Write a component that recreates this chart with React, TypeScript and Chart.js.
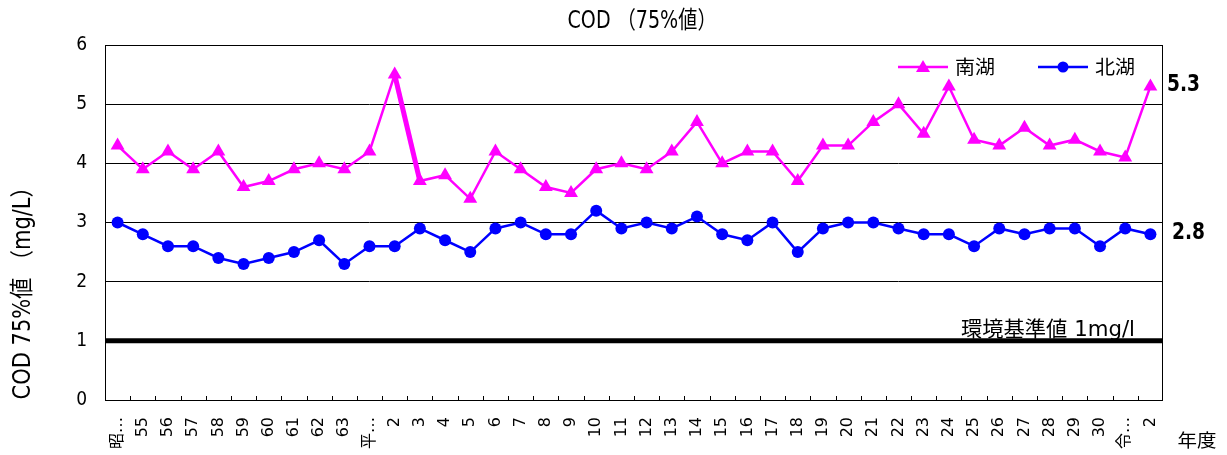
import { useEffect, useRef } from "react";
import { Chart, registerables } from "chart.js";

Chart.register(...registerables);

const categories = [
  "昭…", "55", "56", "57", "58", "59", "60", "61", "62", "63",
  "平…", "2", "3", "4", "5", "6", "7", "8", "9", "10",
  "11", "12", "13", "14", "15", "16", "17", "18", "19", "20",
  "21", "22", "23", "24", "25", "26", "27", "28", "29", "30",
  "令…", "2",
];

const southLake = [
  4.3, 3.9, 4.2, 3.9, 4.2, 3.6, 3.7, 3.9, 4.0, 3.9,
  4.2, 5.5, 3.7, 3.8, 3.4, 4.2, 3.9, 3.6, 3.5, 3.9,
  4.0, 3.9, 4.2, 4.7, 4.0, 4.2, 4.2, 3.7, 4.3, 4.3,
  4.7, 5.0, 4.5, 5.3, 4.4, 4.3, 4.6, 4.3, 4.4, 4.2,
  4.1, 5.3,
];

const northLake = [
  3.0, 2.8, 2.6, 2.6, 2.4, 2.3, 2.4, 2.5, 2.7, 2.3,
  2.6, 2.6, 2.9, 2.7, 2.5, 2.9, 3.0, 2.8, 2.8, 3.2,
  2.9, 3.0, 2.9, 3.1, 2.8, 2.7, 3.0, 2.5, 2.9, 3.0,
  3.0, 2.9, 2.8, 2.8, 2.6, 2.9, 2.8, 2.9, 2.9, 2.6,
  2.9, 2.8,
];

const seriesNames = ["南湖", "北湖"];
const yMin = 0;
const yMax = 6;
const standardValue = 1;
const standardLabel = "環境基準値 1mg/l";
const titleText = "COD （75%値）";
const yTitle = "COD 75%値 （mg/L）";
const xTitle = "年度";

const SOUTH_COLOR = "#ff00ff";
const NORTH_COLOR = "#0000ff";
const FONT = '"DejaVu Sans", "Noto Sans CJK JP", sans-serif';
const JFONT = '"Noto Sans CJK JP", sans-serif';

// draw text squeezed horizontally to a target width (condensed look)
function fitText(ctx: any, text: string, x: number, y: number, align: "left" | "center" | "right", targetW: number) {
  const raw = ctx.measureText(text).width;
  const sx = targetW / raw;
  let left = x;
  if (align === "center") left = x - targetW / 2;
  else if (align === "right") left = x - targetW;
  ctx.save();
  ctx.translate(left, y);
  ctx.scale(sx, 1);
  ctx.textAlign = "left";
  ctx.fillText(text, 0, 0);
  ctx.restore();
}

const decorPlugin = {
  id: "decor",
  beforeDatasetsDraw(chart: any) {
    const { ctx, chartArea, scales } = chart;
    const y = scales.y.getPixelForValue(standardValue);
    ctx.save();
    ctx.strokeStyle = "#000";
    ctx.lineWidth = 5;
    ctx.beginPath();
    ctx.moveTo(chartArea.left, y);
    ctx.lineTo(chartArea.right, y);
    ctx.stroke();
    ctx.restore();
  },
  afterDraw(chart: any) {
    const { ctx, chartArea, scales } = chart;
    const xs = scales.x;
    const ys = scales.y;
    ctx.save();
    ctx.strokeStyle = "#000";
    ctx.lineWidth = 1;
    ctx.strokeRect(chartArea.left + 0.5, chartArea.top + 0.5, chartArea.right - chartArea.left - 1, chartArea.bottom - chartArea.top);
    const n = categories.length;
    const w = (chartArea.right - chartArea.left) / n;
    ctx.beginPath();
    for (let i = 1; i < n; i++) {
      const px = Math.round(xs.getPixelForValue(i) - w / 2) + 0.5;
      ctx.moveTo(px, chartArea.bottom);
      ctx.lineTo(px, chartArea.bottom - 4);
    }
    ctx.stroke();
    ctx.fillStyle = "#000";
    ctx.textBaseline = "middle";
    // title
    ctx.font = `24px ${FONT}`;
    fitText(ctx, titleText, 642, 22, "center", 149);
    // y title
    ctx.save();
    ctx.translate(24, 288);
    ctx.rotate(-Math.PI / 2);
    ctx.font = `24px ${FONT}`;
    fitText(ctx, yTitle, 0, 0, "center", 223);
    ctx.restore();
    // x title
    ctx.font = `18px ${JFONT}`;
    fitText(ctx, xTitle, 1197, 440, "center", 39);
    // standard label
    ctx.font = `21px ${FONT}`;
    ctx.textBaseline = "alphabetic";
    fitText(ctx, standardLabel, 1135, ys.getPixelForValue(standardValue) - 5, "right", 174);
    // last values
    ctx.font = `bold 23px ${FONT}`;
    ctx.textBaseline = "middle";
    fitText(ctx, southLake[southLake.length - 1].toFixed(1), 1167, 85, "left", 33);
    fitText(ctx, northLake[northLake.length - 1].toFixed(1), 1172, 233, "left", 33);
    // legend
    const ly = 67;
    ctx.lineWidth = 2.5;
    ctx.strokeStyle = SOUTH_COLOR;
    ctx.fillStyle = SOUTH_COLOR;
    ctx.beginPath();
    ctx.moveTo(898, ly);
    ctx.lineTo(948, ly);
    ctx.stroke();
    ctx.beginPath();
    ctx.moveTo(923, ly - 7);
    ctx.lineTo(930, ly + 5);
    ctx.lineTo(916, ly + 5);
    ctx.closePath();
    ctx.fill();
    ctx.strokeStyle = NORTH_COLOR;
    ctx.fillStyle = NORTH_COLOR;
    ctx.beginPath();
    ctx.moveTo(1038, ly);
    ctx.lineTo(1088, ly);
    ctx.stroke();
    ctx.beginPath();
    ctx.arc(1063, ly, 5.5, 0, Math.PI * 2);
    ctx.fill();
    ctx.fillStyle = "#000";
    ctx.font = `19px ${JFONT}`;
    fitText(ctx, seriesNames[0], 955, ly, "left", 40);
    fitText(ctx, seriesNames[1], 1095, ly, "left", 40);
    ctx.restore();
  },
};

export default function App() {
  const ref = useRef<HTMLCanvasElement | null>(null);

  useEffect(() => {
    if (!ref.current) return;
    const chart = new Chart(ref.current, {
      type: "line",
      data: {
        labels: categories,
        datasets: [
          {
            label: seriesNames[0],
            data: southLake,
            borderColor: SOUTH_COLOR,
            backgroundColor: SOUTH_COLOR,
            borderWidth: 2.5,
            pointStyle: "triangle",
            pointRadius: 8,
            pointBorderWidth: 0,
            pointBackgroundColor: SOUTH_COLOR,
            tension: 0,
            segment: {
              borderWidth: (c: any) => (c.p0DataIndex === 11 ? 5 : 2.5),
            },
          },
          {
            label: seriesNames[1],
            data: northLake,
            borderColor: NORTH_COLOR,
            backgroundColor: NORTH_COLOR,
            borderWidth: 2.5,
            pointStyle: "circle",
            pointRadius: 6,
            pointBorderWidth: 0,
            pointBackgroundColor: NORTH_COLOR,
            tension: 0,
          },
        ],
      },
      options: {
        animation: false,
        responsive: false,
        layout: { padding: { top: 45, right: 64, left: 0, bottom: 0 } },
        plugins: {
          legend: { display: false },
          title: { display: false },
          tooltip: { enabled: false },
        },
        scales: {
          x: {
            offset: true,
            grid: { display: false },
            border: { display: false },
            ticks: {
              autoSkip: false,
              minRotation: 90,
              maxRotation: 90,
              padding: 9,
              color: "#000",
              font: { family: FONT, size: 16 },
            },
            afterFit: (s: any) => {
              s.height = 55;
            },
          },
          y: {
            min: yMin,
            max: yMax,
            ticks: {
              stepSize: 1,
              padding: 18,
              color: "#000",
              font: { family: FONT, size: 19, weight: "condensed" as any },
            },
            grid: { color: "#000", lineWidth: 1, drawTicks: false },
            border: { display: false },
            afterFit: (s: any) => {
              s.width = 105;
            },
          },
        },
      },
      plugins: [decorPlugin],
    });
    return () => chart.destroy();
  }, []);

  return (
    <div style={{ position: "fixed", left: 0, top: 0, width: 1227, height: 455, background: "#fff" }}>
      <canvas ref={ref} width={1227} height={455} style={{ width: 1227, height: 455 }} />
    </div>
  );
}
